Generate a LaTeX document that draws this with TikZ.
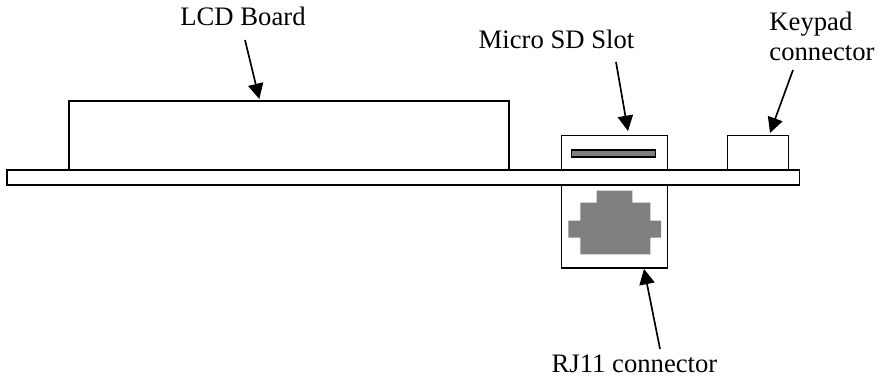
\documentclass[tikz,border=0pt]{standalone}
\usepackage{fontspec}
\setmainfont{Liberation Serif}
\usetikzlibrary{arrows.meta}
\tikzset{
  part/.style={draw, line width=1.25pt, fill=white},
  pointer/.style={line width=1.25pt, -{Triangle[length=11.5pt, width=11.5pt]}},
  caption/.style={anchor=base, inner sep=0pt, font=\fontsize{20}{22.5}\selectfont},
}
\begin{document}
\begin{tikzpicture}[x=0.75pt, y=-0.75pt, line cap=butt]

  \useasboundingbox (0,0) rectangle (883,377);

  % coordinates
  \coordinate (lcdtip) at (259.3,99);
  \coordinate (sdtip) at (628,131);
  \coordinate (keytip) at (770,133);
  \coordinate (rjtip) at (644,269);

  % parts
  \draw[part] (69,101) rectangle (509,170);
  \draw[part] (561.5,135.5) rectangle (667.5,170);
  \draw[part] (727.5,135.5) rectangle (788.5,170);
  \draw[part] (561.5,184) rectangle (667.5,268);

  % board
  \draw[part] (7,170) rectangle (799.5,185);

  % slot
  \draw[line width=1.25pt, fill=gray] (571.5,150) rectangle (655.5,157);

  % jack opening
  \fill[gray] (596.7,190.7) -- (632.3,190.7) -- (632.3,202.7) -- (650.3,202.7)
    -- (650.3,220.7) -- (661,220.7) -- (661,237.7) -- (650.3,237.7) -- (650.3,254.3)
    -- (580.3,254.3) -- (580.3,237.7) -- (568.3,237.7) -- (568.3,220.7)
    -- (580.3,220.7) -- (580.3,202.7) -- (596.7,202.7) -- cycle;

  % labels
  \node[caption] (lcdlabel) at (243,26) {LCD Board};
  \node[caption] (sdlabel) at (556.5,49) {Micro SD Slot};
  \node[caption, align=left] (keylabel) at (822,60.5) {Keypad\\connector};
  \node[caption] (rjlabel) at (634.5,373) {RJ11 connector};

  % arrows
  \draw[pointer] (lcdlabel.base) ++(2,14) -- (lcdtip);
  \draw[pointer] (sdlabel.base) ++(59.5,13) -- (sdtip);
  \draw[pointer] (keylabel.base) ++(-29,9.5) -- (keytip);
  \draw[pointer] (rjlabel.base) ++(25.5,-24) -- (rjtip);
\end{tikzpicture}
\end{document}
